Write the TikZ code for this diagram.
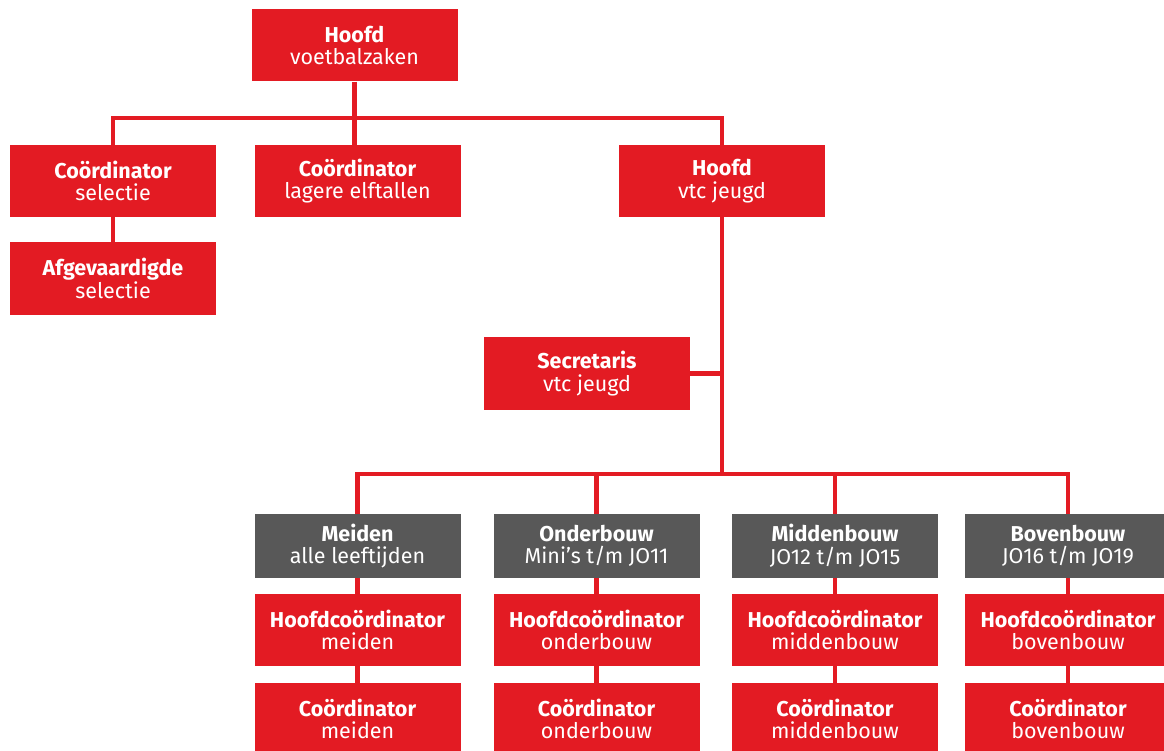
\documentclass[tikz,border=0pt]{standalone}
\usepackage{fontspec}
\setmainfont{Fira Sans}
\definecolor{clubred}{RGB}{227,27,35}
\definecolor{clubgray}{RGB}{88,88,88}

\begin{document}
\begin{tikzpicture}[x=1pt, y=-1pt,
  box/.style={fill=clubred, text=white, minimum width=206pt, minimum height=72pt,
    inner sep=0pt, align=center, font=\fontsize{21.5}{22.5}\selectfont},
  group/.style={box, fill=clubgray, minimum height=64pt},
  link/.style={draw=clubred, line width=4.5pt}]
  % canvas
  \useasboundingbox (0,0) rectangle (1164,751);
  \clip (0,0) rectangle (1164,751);

  % --- Top ---
  \node[box] (hvz) at (354.5, 45.5) {\textbf{Hoofd}\\voetbalzaken};
  \node[box] (csel) at (113, 181) {\textbf{Coördinator}\\selectie};
  \node[box] (clag) at (357.5, 181) {\textbf{Coördinator}\\lagere elftallen};
  \node[box] (hvtc) at (722, 181) {\textbf{Hoofd}\\vtc jeugd};
  \node[box] (afg) at (113, 278.5) {\textbf{Afgevaardigde}\\selectie};
  \node[box, minimum height=73pt] (sec) at (587, 373.5) {\textbf{Secretaris}\\vtc jeugd};

  % --- Groups ---
  \node[group] (meiden) at (357.5, 546) {\textbf{Meiden}\\alle leeftijden};
  \node[group] (onder) at (596.5, 546) {\textbf{Onderbouw}\\Mini’s t/m JO11};
  \node[group] (midden) at (835, 546) {\textbf{Middenbouw}\\JO12 t/m JO15};
  \node[group] (boven) at (1068, 546) {\textbf{Bovenbouw}\\JO16 t/m JO19};

  \node[box] (hcmeiden) at (357.5, 630) {\textbf{Hoofdcoördinator}\\meiden};
  \node[box] (hconder) at (596.5, 630) {\textbf{Hoofdcoördinator}\\onderbouw};
  \node[box] (hcmidden) at (835, 630) {\textbf{Hoofdcoördinator}\\middenbouw};
  \node[box] (hcboven) at (1068, 630) {\textbf{Hoofdcoördinator}\\bovenbouw};

  \node[box] (cmeiden) at (357.5, 719) {\textbf{Coördinator}\\meiden};
  \node[box] (conder) at (596.5, 719) {\textbf{Coördinator}\\onderbouw};
  \node[box] (cmidden) at (835, 719) {\textbf{Coördinator}\\middenbouw};
  \node[box] (cboven) at (1068, 719) {\textbf{Coördinator}\\bovenbouw};

  % --- Lines ---
  \coordinate (topbus) at (354.5, 118);
  \coordinate (lowbus) at (722, 474);
  \draw[link] (hvz.south) -- (hvz.south |- clag.north);
  \draw[link] (csel.north) |- (topbus) -| (hvtc.north);
  \draw[link] (csel.south) -- (afg.north);
  \draw[link] (hvtc.south) -- (lowbus);
  \draw[link] (sec.east) -- (sec.east -| hvtc);
  \draw[link] (meiden.north) |- (lowbus) -| (boven.north);
  \draw[link] (onder.north) -- (onder.north |- lowbus);
  \draw[link] (midden.north) -- (midden.north |- lowbus);
  \foreach \col in {meiden, onder, midden, boven} {
    \draw[link] (\col.south) -- (hc\col.north);
    \draw[link] (hc\col.south) -- (c\col.north);
  }
\end{tikzpicture}
\end{document}
